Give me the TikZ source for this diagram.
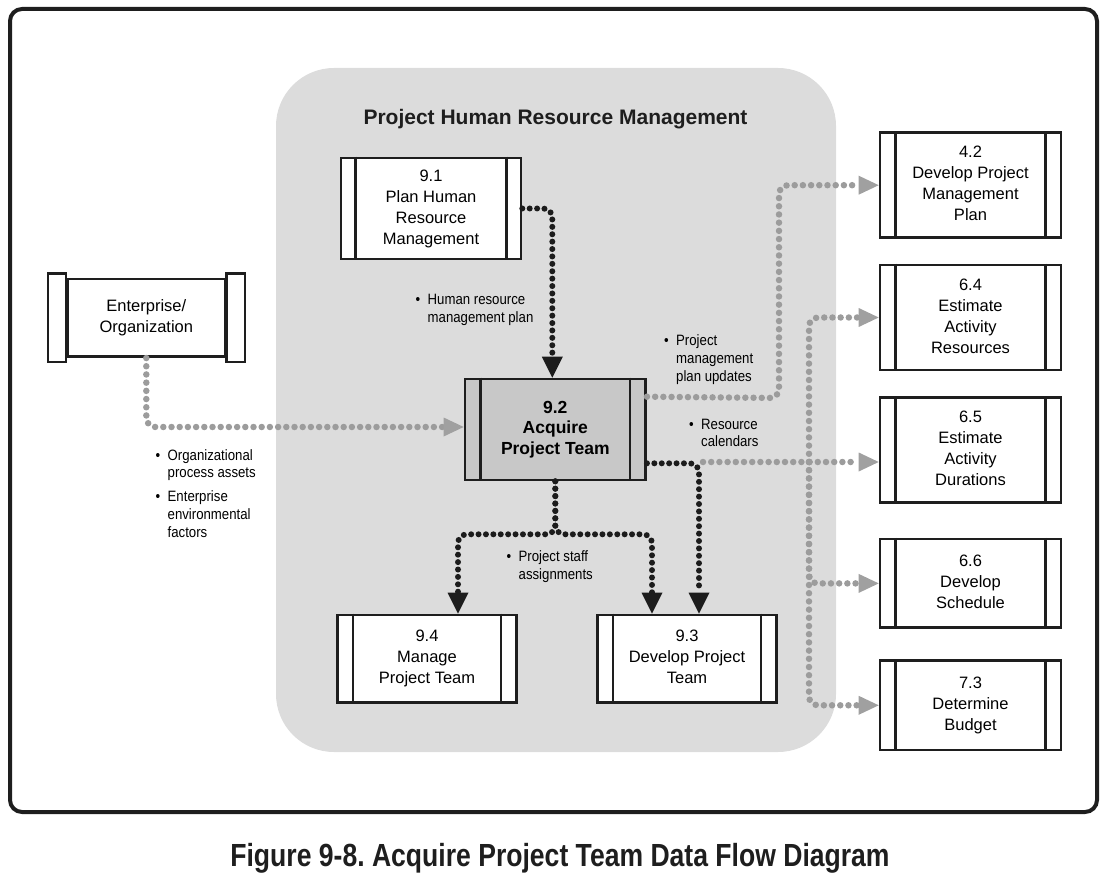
\documentclass[tikz,border=0pt]{standalone}
\usepackage{fontspec}
\setmainfont{Liberation Sans}
\newfontfamily\lblfont{Liberation Sans}[FakeStretch=0.88]
\newfontfamily\capfont{Liberation Sans}[FakeStretch=0.83]
\usetikzlibrary{arrows.meta}
\frenchspacing
\definecolor{panel}{HTML}{DCDCDC}
\definecolor{hub}{HTML}{C8C8C8}
\definecolor{gdot}{HTML}{9C9C9C}
\definecolor{gtip}{HTML}{A0A0A0}
\definecolor{bdot}{HTML}{1C1C1C}
\definecolor{ink}{HTML}{1E1E1E}
\newcommand\pbars[2]{%
  \draw[bar] ([xshift=#2]#1.north west) -- ([xshift=#2]#1.south west);
  \draw[bar] ([xshift=-#2]#1.north east) -- ([xshift=-#2]#1.south east);}
\newcommand\bitem{\makebox[12pt][l]{\textbullet}}
\tikzset{
  proc/.style={draw=ink, line width=2.6pt, fill=white, inner sep=0pt, align=center,
    font=\fontsize{16.5}{21}\selectfont},
  bar/.style={draw=ink, line width=2.6pt},
  grayflow/.style={draw=gdot, line width=6.5pt, line cap=round, dash pattern=on 0pt off 8.2pt,
    rounded corners=9pt, -{Triangle[length=20pt,width=19pt,line width=0pt,color=gtip]}},
  blackflow/.style={draw=bdot, line width=6pt, line cap=round, dash pattern=on 0pt off 7.4pt,
    rounded corners=9pt, -{Triangle[length=21pt,width=21pt,line width=0pt]}},
  lbl/.style={inner sep=0pt, anchor=base west, font=\lblfont\fontsize{15}{17.8}\selectfont},
}
\begin{document}
\begin{tikzpicture}[x=1pt,y=-1pt]
\useasboundingbox (0,0) rectangle (1109,877);
% outer frame and panel
\draw[ink, line width=4pt, rounded corners=12pt] (10,9) rectangle (1097,812);
\fill[panel, rounded corners=58pt] (276,68) rectangle (836,752);
\node[anchor=base, font=\fontsize{21}{24}\selectfont\bfseries, text=ink] (title) at (555.5,125) {Project Human Resource Management};

% process boxes
\node[proc, minimum width=180pt, minimum height=101pt] (p91) at (431,208.5) {\strut 9.1\\Plan Human\\Resource\\Management\strut};
\pbars{p91}{16pt}
\node[proc, fill=hub, minimum width=180.7pt, minimum height=101pt, font=\fontsize{17.5}{20.5}\selectfont\bfseries] (p92) at (555.3,429.5) {\strut 9.2\\Acquire\\Project Team\strut};
\pbars{p92}{17pt}
\node[proc, minimum width=179.4pt, minimum height=87.3pt] (p94) at (427,658.6) {\strut 9.4\\Manage\\Project Team\strut};
\pbars{p94}{17pt}
\node[proc, minimum width=179.4pt, minimum height=87.3pt] (p93) at (687,658.6) {\strut 9.3\\Develop Project\\Team\strut};
\pbars{p93}{17pt}
\node[proc, minimum width=181pt, minimum height=105pt] (p42) at (970.5,185.2) {\strut 4.2\\Develop Project\\Management\\Plan\strut};
\pbars{p42}{17pt}
\node[proc, minimum width=181pt, minimum height=105pt] (p64) at (970.5,317.5) {\strut 6.4\\Estimate\\Activity\\Resources\strut};
\pbars{p64}{17pt}
\node[proc, minimum width=181pt, minimum height=105pt] (p65) at (970.5,450.2) {\strut 6.5\\Estimate\\Activity\\Durations\strut};
\pbars{p65}{17pt}
\node[proc, minimum width=181pt, minimum height=88.7pt] (p66) at (970.5,583.4) {\strut 6.6\\Develop\\Schedule\strut};
\pbars{p66}{17pt}
\node[proc, minimum width=181pt, minimum height=89.3pt] (p73) at (970.5,705.3) {\strut 7.3\\Determine\\Budget\strut};
\pbars{p73}{17pt}
% enterprise
\node[proc, minimum width=158pt, minimum height=77.7pt] (ent) at (146.3,317.9) {\strut Enterprise/\\Organization\strut};
\draw[bar, fill=white] ([xshift=-18pt,yshift=4pt]ent.north west) rectangle ([yshift=-4pt]ent.south west);
\draw[bar, fill=white] ([yshift=4pt]ent.north east) rectangle ([xshift=18.4pt,yshift=-4pt]ent.south east);

% coordinates
\coordinate (split) at ([yshift=-53pt]p92.south);
\coordinate (pmc) at (779,398);
\coordinate (rc) at (703,462);
\coordinate (J) at (809,462);

% gray flows
\draw[grayflow] (ent.south) |- ([yshift=2.5pt]p92.west);
\draw[grayflow] ([yshift=-19pt]p92.north east) -- (pmc) |- (p42.west);
\draw[grayflow] (rc) -- (rc -| p65.west);
\draw[grayflow] (J) |- (p64.west);
\draw[grayflow] (J) |- (p66.west);
\draw[grayflow] (J) |- (p73.west);

% black flows
\draw[blackflow] (p91.east) -| ([xshift=-3pt]p92.north);
\draw[blackflow] (p92.south) -- (split) -| ([xshift=31pt]p94.north);
\draw[blackflow] (p92.south) -- (split) -| ([xshift=-35pt]p93.north);
\draw[blackflow] ([yshift=18pt]p92.south east) -| ([xshift=12pt]p93.north);

% labels
\node[lbl] (lhr) at (415.5,305) {\begin{tabular}[t]{@{}l@{}}\bitem Human resource\\\hspace*{12pt}management plan\end{tabular}};
\node[lbl] (lpm) at (664,346) {\begin{tabular}[t]{@{}l@{}}\bitem Project\\\hspace*{12pt}management\\\hspace*{12pt}plan updates\end{tabular}};
\node[lbl] (lrc) at (689,429) {\begin{tabular}[t]{@{}l@{}}\bitem Resource\\\hspace*{12pt}calendars\end{tabular}};
\node[lbl] (lps) at (506.5,561.7) {\begin{tabular}[t]{@{}l@{}}\bitem Project staff\\\hspace*{12pt}assignments\end{tabular}};
\node[lbl] (lop) at (155.5,460) {\begin{tabular}[t]{@{}l@{}}\bitem Organizational\\\hspace*{12pt}process assets\\[6pt]\bitem Enterprise\\\hspace*{12pt}environmental\\\hspace*{12pt}factors\end{tabular}};

% caption
\node[anchor=base, font=\capfont\fontsize{32}{36}\selectfont\bfseries, text=ink] (cap) at (560,866) {Figure 9-8. Acquire Project Team Data Flow Diagram};
\end{tikzpicture}
\end{document}
